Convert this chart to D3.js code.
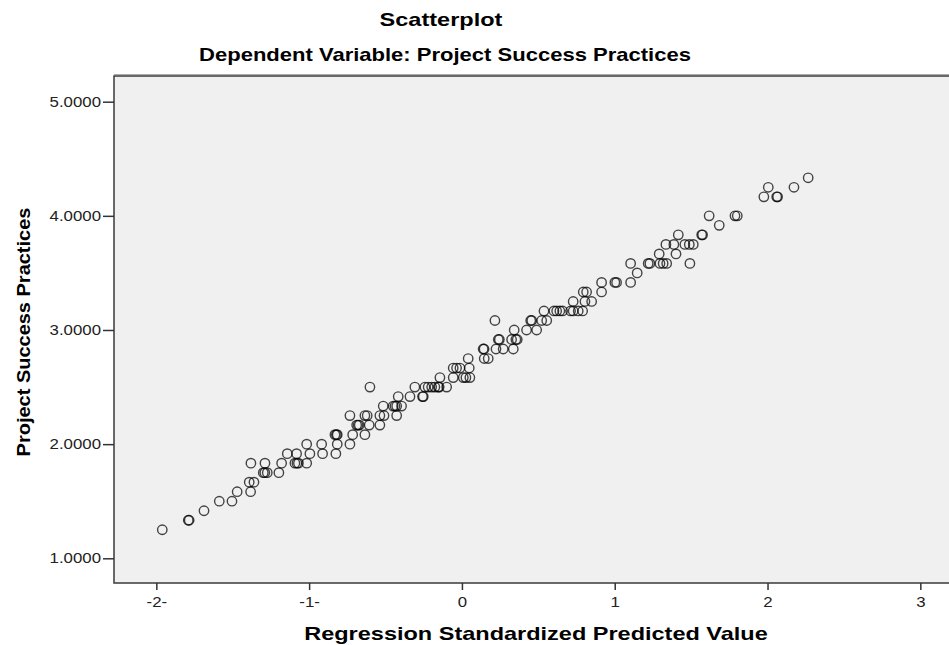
<!DOCTYPE html>
<html>
<head>
<meta charset="utf-8">
<script src="https://cdn.jsdelivr.net/npm/d3@7"></script>
<style>
  body { margin: 0; background: #fff; }
  svg { display: block; font-family: "Liberation Sans", Arial, sans-serif; }
</style>
</head>
<body>
<div id="graph"></div>
<script>
// Predicted values (x) and observed Project Success Practices (y)
var xValues = [
  -1.961, -1.791, -1.785, -1.688, -1.588, -1.505, -1.471, -1.383, -1.392, -1.361,
  -1.381, -1.289, -1.300, -1.274, -1.290, -1.198, -1.180, -1.143, -1.093, -1.080,
  -1.070, -1.082, -1.016, -1.016, -0.995, -0.918, -0.912, -0.831, -0.816, -0.822,
  -0.816, -0.825, -0.733, -0.733, -0.715, -0.689, -0.672, -0.680, -0.635, -0.620,
  -0.635, -0.607, -0.537, -0.537, -0.510, -0.515, -0.450, -0.427, -0.438, -0.427,
  -0.395, -0.602, -0.417, -0.340, -0.308, -0.253, -0.258, -0.242, -0.221, -0.198,
  -0.177, -0.155, -0.149, -0.100, -0.144, -0.057, 0.009, 0.026, 0.052, -0.057,
  -0.035, -0.013, 0.048, 0.041, 0.146, 0.172, 0.139, 0.145, 0.216, 0.223,
  0.270, 0.336, 0.238, 0.245, 0.325, 0.353, 0.362, 0.342, 0.423, 0.489,
  0.450, 0.457, 0.522, 0.555, 0.537, 0.602, 0.620, 0.641, 0.659, 0.711,
  0.728, 0.761, 0.790, 0.728, 0.794, 0.816, 0.805, 0.849, 0.914, 0.914,
  1.001, 1.012, 1.104, 1.104, 1.147, 1.219, 1.230, 1.296, 1.317, 1.340,
  1.492, 1.291, 1.401, 1.335, 1.387, 1.459, 1.488, 1.514, 1.416, 1.569,
  1.575, 1.618, 1.684, 1.787, 1.802, 2.005, 1.976, 2.060, 2.066, 2.173,
  2.266
];
var yValues = [
  1.25, 1.3333, 1.3333, 1.4167, 1.5, 1.5, 1.5833, 1.5833, 1.6667, 1.6667,
  1.8333, 1.8333, 1.75, 1.75, 1.75, 1.75, 1.8333, 1.9167, 1.8333, 1.8333,
  1.8333, 1.9167, 1.8333, 2.0, 1.9167, 2.0, 1.9167, 2.0833, 2.0833, 2.0833,
  2.0, 1.9167, 2.0, 2.25, 2.0833, 2.1667, 2.1667, 2.1667, 2.25, 2.25,
  2.0833, 2.1667, 2.1667, 2.25, 2.25, 2.3333, 2.3333, 2.3333, 2.3333, 2.25,
  2.3333, 2.5, 2.4167, 2.4167, 2.5, 2.4167, 2.4167, 2.5, 2.5, 2.5,
  2.5, 2.5, 2.5, 2.5, 2.5833, 2.5833, 2.5833, 2.5833, 2.5833, 2.6667,
  2.6667, 2.6667, 2.6667, 2.75, 2.75, 2.75, 2.8333, 2.8333, 3.0833, 2.8333,
  2.8333, 2.8333, 2.9167, 2.9167, 2.9167, 2.9167, 2.9167, 3.0, 3.0, 3.0,
  3.0833, 3.0833, 3.0833, 3.0833, 3.1667, 3.1667, 3.1667, 3.1667, 3.1667, 3.1667,
  3.1667, 3.1667, 3.1667, 3.25, 3.3333, 3.3333, 3.25, 3.25, 3.3333, 3.4167,
  3.4167, 3.4167, 3.4167, 3.5833, 3.5, 3.5833, 3.5833, 3.5833, 3.5833, 3.5833,
  3.5833, 3.6667, 3.6667, 3.75, 3.75, 3.75, 3.75, 3.75, 3.8333, 3.8333,
  3.8333, 4.0, 3.9167, 4.0, 4.0, 4.25, 4.1667, 4.1667, 4.1667, 4.25,
  4.3333
];

var xTicks = [-2, -1, 0, 1, 2, 3];
var xTickLabels = ["-2-", "-1-", "0", "1", "2", "3"];
var yTicks = [1, 2, 3, 4, 5];
var yTickLabels = ["1.0000", "2.0000", "3.0000", "4.0000", "5.0000"];

var chartTitle = "Scatterplot";
var chartSubtitle = "Dependent Variable: Project Success Practices";
var xTitle = "Regression Standardized Predicted Value";
var yTitle = "Project Success Practices";

var WIDTH = 949, HEIGHT = 645;
var LEFT = 114, TOP = 76, BOTTOM = 583;
var STRETCH = 1.27;   // the source text is drawn wider than plain Arial

var xscale = d3.scaleLinear().domain([-2.277, 3.3]).range([LEFT, LEFT + 5.577 * 152.8]);
var yscale = d3.scaleLinear().domain([0.7836, 5.225]).range([BOTTOM, TOP]);

var svg = d3.select("#graph").append("svg")
  .attr("width", WIDTH)
  .attr("height", HEIGHT);

// widen a text element horizontally, keeping its height
function stretch(sel, factor) {
  sel.each(function () {
    var w = this.getComputedTextLength();
    d3.select(this)
      .attr("textLength", w * factor)
      .attr("lengthAdjust", "spacingAndGlyphs");
  });
}

// plot background + frame (right edge runs off the picture)
svg.append("rect")
  .attr("x", LEFT).attr("y", TOP)
  .attr("width", WIDTH - LEFT + 10).attr("height", BOTTOM - TOP)
  .attr("fill", "#f0f0f0")
  .attr("stroke", "#3a3a3a")
  .attr("stroke-width", 1.5);
svg.append("line")
  .attr("x1", LEFT).attr("x2", WIDTH)
  .attr("y1", TOP - 1.5).attr("y2", TOP - 1.5)
  .attr("stroke", "#aaa").attr("stroke-width", 1);

// axes
var x_axis = d3.axisBottom(xscale)
  .tickValues(xTicks)
  .tickSize(7)
  .tickPadding(7)
  .tickFormat(function (d, i) { return xTickLabels[i]; });
var y_axis = d3.axisLeft(yscale)
  .tickValues(yTicks)
  .tickSize(11)
  .tickPadding(2)
  .tickFormat(function (d, i) { return yTickLabels[i]; });

var gx = svg.append("g").attr("transform", "translate(0," + BOTTOM + ")").call(x_axis);
var gy = svg.append("g").attr("transform", "translate(" + LEFT + ",0)").call(y_axis);

[gx, gy].forEach(function (g) {
  g.select(".domain").remove();
  g.selectAll(".tick line").attr("stroke", "#333").attr("stroke-width", 1.5);
  g.selectAll(".tick text")
    .attr("fill", "#222")
    .style("font-family", "'Liberation Sans', Arial, sans-serif")
    .style("font-size", "14px");
});
stretch(gx.selectAll(".tick text"), 1.2);
stretch(gy.selectAll(".tick text"), 1.2);

// points
var points = xValues.map(function (x, i) { return [x, yValues[i]]; });
svg.append("g").selectAll("circle")
  .data(points)
  .enter()
  .append("circle")
  .attr("cx", function (d) { return xscale(d[0]); })
  .attr("cy", function (d) { return yscale(d[1]); })
  .attr("r", 4.7)
  .attr("fill", "none")
  .attr("stroke", "#000")
  .attr("stroke-opacity", 0.72)
  .attr("stroke-width", 1.4);

// titles
var t1 = svg.append("text")
  .attr("x", 441).attr("y", 26)
  .attr("text-anchor", "middle")
  .style("font-size", "18.5px").style("font-weight", "bold")
  .text(chartTitle);
var t2 = svg.append("text")
  .attr("x", 445).attr("y", 61)
  .attr("text-anchor", "middle")
  .style("font-size", "18.5px").style("font-weight", "bold")
  .text(chartSubtitle);
var t3 = svg.append("text")
  .attr("x", 536).attr("y", 640)
  .attr("text-anchor", "middle")
  .style("font-size", "18.5px").style("font-weight", "bold")
  .text(xTitle);
var t4 = svg.append("text")
  .attr("transform", "translate(30," + 332 + ") rotate(-90)")
  .attr("text-anchor", "middle")
  .style("font-size", "18px").style("font-weight", "bold")
  .text(yTitle);
[t1, t3].forEach(function (t) { stretch(t, STRETCH); });
stretch(t2, 1.19);
stretch(t4, 1.11);
</script>
</body>
</html>
